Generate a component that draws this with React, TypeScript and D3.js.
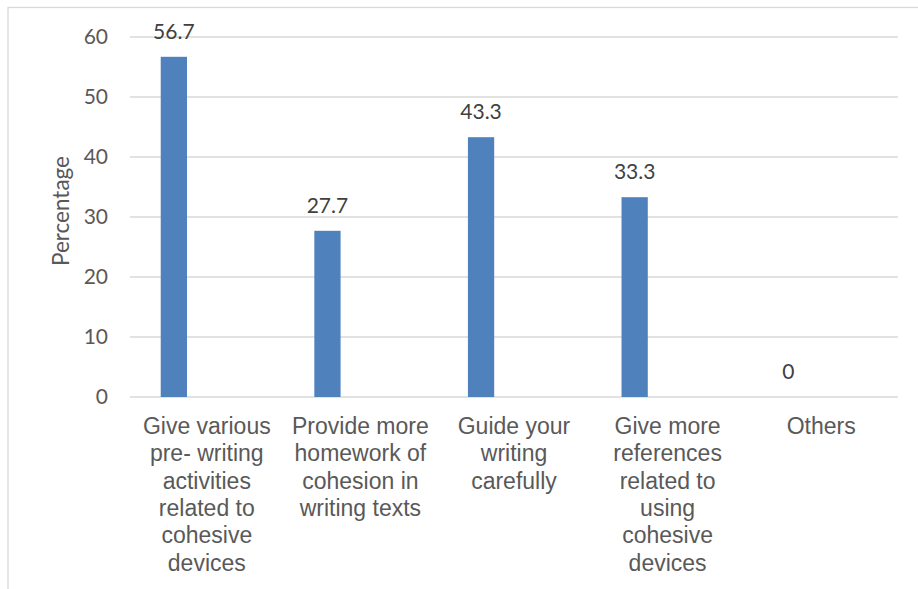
import React from "react";
import * as d3 from "d3";

// Survey responses: suggestions for teaching cohesive devices
const categories = [
  "Give various pre- writing activities related to cohesive devices",
  "Provide more homework of cohesion in writing texts",
  "Guide your writing carefully",
  "Give more references related to using cohesive devices",
  "Others",
];
const categoryLines = [
  ["Give various", "pre- writing", "activities", "related to", "cohesive", "devices"],
  ["Provide more", "homework of", "cohesion in", "writing texts"],
  ["Guide your", "writing", "carefully"],
  ["Give more", "references", "related to", "using", "cohesive", "devices"],
  ["Others"],
];
const values = [56.7, 27.7, 43.3, 33.3, 0];
const yTicks = [0, 10, 20, 30, 40, 50, 60];
const yTitle = "Percentage";

const W = 918;
const H = 589;
const plot = { left: 130, right: 898, top: 37, bottom: 397 };
const barOffset = 0.2;
const barWidth = 0.171;
const barColor = "#4f81bd";
const gridColor = "#d9d9d9";
const labelFont = "Lato, 'Open Sans', sans-serif";
const catFont = "'Liberation Sans', Arial, sans-serif";

export default function App() {
  const x = d3.scaleBand<string>().domain(categories).range([plot.left, plot.right]).padding(0);
  const y = d3.scaleLinear().domain([0, 60]).range([plot.bottom, plot.top]);
  const bw = x.bandwidth();

  return (
    <svg
      width={W}
      height={H}
      style={{ position: "absolute", left: 0, top: 0, background: "#fff", overflow: "hidden" }}
    >
      {/* chart area frame */}
      <rect x={8} y={7.5} width={1200} height={1200} fill="#fff" stroke={gridColor} strokeWidth={1.3} />

      {/* gridlines */}
      {yTicks.map((t) => (
        <line
          key={t}
          x1={plot.left}
          x2={plot.right}
          y1={y(t)}
          y2={y(t)}
          stroke={gridColor}
          strokeWidth={1.5}
        />
      ))}

      {/* y tick labels */}
      {yTicks.map((t) => (
        <text
          key={t}
          x={108}
          y={y(t)}
          dy="0.35em"
          textAnchor="end"
          fontFamily={labelFont}
          fontSize={21}
          fill="#595959"
        >
          {t}
        </text>
      ))}

      {/* y axis title */}
      <text
        transform={`translate(69,211) rotate(-90)`}
        textAnchor="middle"
        fontFamily={labelFont}
        fontSize={22.5}
        fill="#595959"
      >
        {yTitle}
      </text>

      {/* bars */}
      {categories.map((c, i) => {
        const bx = (x(c) as number) + bw * barOffset;
        const w = bw * barWidth;
        const v = values[i];
        return (
          <g key={c}>
            <rect x={bx} y={y(v)} width={w} height={y(0) - y(v)} fill={barColor} />
            <text
              x={bx + w / 2}
              y={y(v) - 18}
              textAnchor="middle"
              fontFamily={labelFont}
              fontSize={21}
              fill="#404040"
            >
              {v}
            </text>
          </g>
        );
      })}

      {/* category labels */}
      {categories.map((c, i) => (
        <text
          key={c}
          x={(x(c) as number) + bw / 2}
          y={434}
          textAnchor="middle"
          fontFamily={catFont}
          fontSize={23}
          fill="#595959"
        >
          {categoryLines[i].map((ln, j) => (
            <tspan key={j} x={(x(c) as number) + bw / 2} dy={j === 0 ? 0 : 27.3}>
              {ln}
            </tspan>
          ))}
        </text>
      ))}
    </svg>
  );
}
